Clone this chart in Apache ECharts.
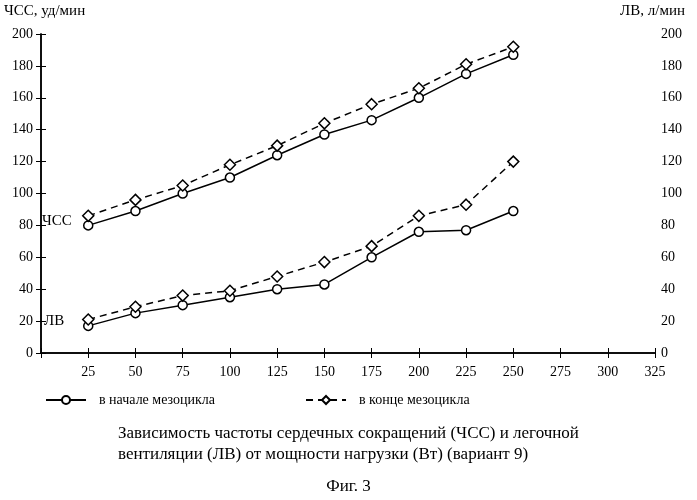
<!DOCTYPE html>
<html>
<head>
<meta charset="utf-8" />
<script src="https://cdn.jsdelivr.net/npm/echarts@6/dist/echarts.min.js"></script>
</head>
<body style="margin:0;background:#fff">
<div id="main" style="width:697px;height:500px"></div>
<script type="text/javascript">
const loads = [25, 50, 75, 100, 125, 150, 175, 200, 225, 250];
const hrStart = [80, 89, 100, 110, 124, 137, 146, 160, 175, 187];
const hrEnd = [86, 96, 105, 118, 130, 144, 156, 166, 181, 192];
const vStart = [17, 25, 30, 35, 40, 43, 60, 76, 77, 89];
const vEnd = [21, 29, 36, 39, 48, 57, 67, 86, 93, 120];

const pair = (ys) => loads.map((x, i) => [x, ys[i]]);
const font = 'Liberation Serif';
var chart = echarts.init(document.getElementById('main'), null, { renderer: 'canvas' });

function line(name, ys, dashed) {
    return {
        type: 'line', name: name, data: pair(ys),
        symbol: dashed ? 'diamond' : 'circle', symbolSize: dashed ? 11 : 9,
        itemStyle: { color: '#fff', borderColor: '#000', borderWidth: 1.5 },
        lineStyle: { color: '#000', width: 1.5, type: dashed ? [7, 5] : 'solid' },
        animation: false,
    };
}

const axisCommon = {
    axisLine: { show: true, lineStyle: { color: '#000', width: 1.5 } },
    axisTick: { show: true, inside: true, length: 5, lineStyle: { color: '#000' } },
    splitLine: { show: false },
};

chart.setOption({
    textStyle: { fontFamily: font, color: '#000' },
    grid: { left: 41, right: 42, top: 34, bottom: 147 },
    legend: {
        bottom: 88, left: 40, itemGap: 90, itemWidth: 40, itemHeight: 10,
        textStyle: { fontSize: 14, fontFamily: font, color: '#000', padding: [0, 0, 0, 8] },
        data: ['в начале мезоцикла', 'в конце мезоцикла']
    },
    xAxis: [Object.assign({
        type: 'value', min: 0, max: 325, interval: 25,
        axisLabel: { fontSize: 14, color: '#000', margin: 12, formatter: v => v === 0 ? '' : v },
    }, axisCommon), Object.assign({
        type: 'value', min: 0, max: 325, interval: 25, position: 'top',
        axisLabel: { show: false },
    }, axisCommon)],
    yAxis: [Object.assign({
        type: 'value', min: 0, max: 200, interval: 20,
        axisLabel: { fontSize: 14, color: '#000', margin: 8 },
    }, axisCommon), Object.assign({
        type: 'value', min: 0, max: 200, interval: 20, position: 'right',
        axisLabel: { fontSize: 14, color: '#000', margin: 6 },
    }, axisCommon)],
    series: [
        line('в начале мезоцикла', hrStart, false),
        line('в конце мезоцикла', hrEnd, true),
        line('в начале мезоцикла', vStart, false),
        line('в конце мезоцикла', vEnd, true),
    ],
    graphic: [
        { type: 'text', left: 4, top: 4, style: { text: 'ЧСС, уд/мин', font: '15px ' + font, fill: '#000' } },
        { type: 'text', right: 12, top: 4, style: { text: 'ЛВ, л/мин', font: '15px ' + font, fill: '#000' } },
        { type: 'text', left: 42, top: 214, style: { text: 'ЧСС', font: '15px ' + font, fill: '#000' } },
        { type: 'text', left: 44, top: 314, style: { text: 'ЛВ', font: '15px ' + font, fill: '#000' } },
        { type: 'text', left: 'center', top: 423, style: { text: 'Зависимость частоты сердечных сокращений (ЧСС) и легочной\nвентиляции (ЛВ) от мощности нагрузки (Вт) (вариант 9)', font: '17px ' + font, fill: '#000', align: 'center', lineHeight: 21 } },
        { type: 'text', left: 'center', top: 478, style: { text: 'Фиг. 3', font: '17px ' + font, fill: '#000' } },
    ],
});
</script>
</body>
</html>
